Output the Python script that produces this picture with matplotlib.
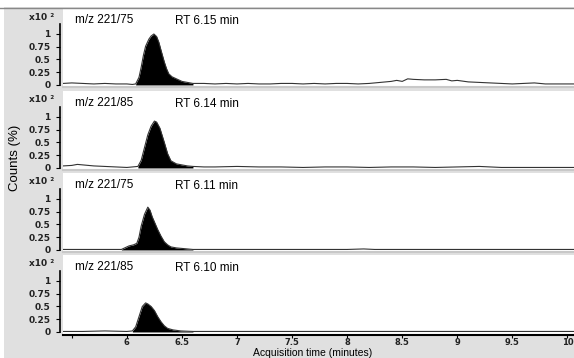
import matplotlib.pyplot as plt
from matplotlib.patches import Rectangle
from matplotlib.lines import Line2D

# chromatogram traces (time in min, counts in x10^2 %)
t1 = [5.42, 5.5, 5.6, 5.7, 5.8, 5.9, 6.0, 6.05, 6.08, 6.11, 6.13, 6.15, 6.17, 6.2, 6.22, 6.245,
      6.27, 6.29, 6.31, 6.34, 6.36, 6.38, 6.41, 6.45, 6.5, 6.55, 6.6, 6.7, 6.8, 6.9, 7.0, 7.1,
      7.2, 7.3, 7.4, 7.5, 7.6, 7.7, 7.8, 7.9, 8.0, 8.1, 8.2, 8.3, 8.4, 8.45, 8.5, 8.55, 8.6,
      8.7, 8.8, 8.9, 8.95, 9.0, 9.1, 9.2, 9.3, 9.4, 9.5, 9.6, 9.7, 9.8, 9.9, 10.06]
y1 = [0.03, 0.04, 0.03, 0.02, 0.03, 0.02, 0.02, 0.01, 0.02, 0.15, 0.35, 0.58, 0.76, 0.9, 0.96, 1.0,
      0.95, 0.84, 0.68, 0.45, 0.32, 0.22, 0.16, 0.12, 0.07, 0.05, 0.03, 0.03, 0.02, 0.03, 0.02, 0.03,
      0.02, 0.02, 0.03, 0.03, 0.02, 0.03, 0.02, 0.03, 0.03, 0.02, 0.03, 0.05, 0.07, 0.09, 0.07, 0.12, 0.11,
      0.1, 0.1, 0.11, 0.08, 0.09, 0.06, 0.05, 0.04, 0.03, 0.02, 0.03, 0.04, 0.02, 0.02, 0.02]

t2 = [5.42, 5.5, 5.55, 5.6, 5.7, 5.8, 5.9, 6.0, 6.05, 6.1, 6.13, 6.16, 6.19, 6.22, 6.25, 6.27,
      6.3, 6.34, 6.37, 6.4, 6.45, 6.5, 6.55, 6.6, 6.7, 6.8, 7.0, 7.2, 7.4, 7.6, 7.8, 8.0, 8.2,
      8.4, 8.6, 8.8, 9.0, 9.2, 9.4, 9.6, 9.8, 10.06]
y2 = [0.04, 0.05, 0.07, 0.06, 0.04, 0.03, 0.02, 0.01, 0.02, 0.03, 0.15, 0.4, 0.65, 0.82, 0.92, 0.9,
      0.78, 0.5, 0.28, 0.14, 0.08, 0.06, 0.04, 0.03, 0.02, 0.02, 0.03, 0.02, 0.02, 0.01, 0.02, 0.02, 0.01,
      0.02, 0.02, 0.01, 0.02, 0.03, 0.01, 0.01, 0.01, 0.01]

t3 = [5.42, 5.6, 5.8, 5.95, 5.98, 6.02, 6.06, 6.09, 6.11, 6.13, 6.16, 6.19, 6.21, 6.23, 6.25,
      6.28, 6.31, 6.34, 6.37, 6.4, 6.45, 6.5, 6.6, 7.0, 7.5, 8.0, 8.15, 8.25, 8.4, 9.0, 9.5, 10.06]
y3 = [0.01, 0.01, 0.01, 0.01, 0.04, 0.08, 0.1, 0.13, 0.25, 0.47, 0.7, 0.84, 0.78, 0.65, 0.55,
      0.4, 0.27, 0.16, 0.1, 0.06, 0.04, 0.03, 0.01, 0.01, 0.01, 0.01, 0.02, 0.01, 0.01, 0.01, 0.01, 0.01]

t4 = [5.42, 5.6, 5.8, 6.0, 6.05, 6.08, 6.11, 6.14, 6.17, 6.19, 6.22, 6.25, 6.28, 6.31, 6.34,
      6.37, 6.42, 6.49, 6.6, 7.0, 7.5, 8.0, 8.5, 9.0, 9.5, 10.06]
y4 = [0.01, 0.01, 0.02, 0.01, 0.02, 0.1, 0.3, 0.5, 0.57, 0.55, 0.5, 0.42, 0.3, 0.2, 0.12,
      0.07, 0.04, 0.02, 0.01, 0.01, 0.01, 0.01, 0.01, 0.01, 0.01, 0.01]

traces = [(t1, y1), (t2, y2), (t3, y3), (t4, y4)]
peak_windows = [(6.08, 6.6), (6.1, 6.6), (5.95, 6.6), (6.05, 6.6)]
mz_labels = ['m/z 221/75', 'm/z 221/85', 'm/z 221/75', 'm/z 221/85']
rt_labels = ['RT 6.15 min', 'RT 6.14 min', 'RT 6.11 min', 'RT 6.10 min']
y_ticks = [0, 0.25, 0.5, 0.75, 1]
y_ticklabels = ['0', '0.25', '0.5', '0.75', '1']
x_ticks = [5.5, 6, 6.5, 7, 7.5, 8, 8.5, 9, 9.5, 10]
x_ticklabels = ['', '6', '6.5', '7', '7.5', '8', '8.5', '9', '9.5', '10']

W, H = 574, 358
bg = '#e0e0e0'
fig = plt.figure(figsize=(W / 100, H / 100), dpi=100)
fig.patch.set_facecolor(bg)

# white strip at top and left edge, thin line under the top strip
fig.add_artist(Rectangle((0, 1 - 7 / H), 1, 7 / H, transform=fig.transFigure,
                         facecolor='white', edgecolor='none'))
fig.add_artist(Rectangle((0, 0), 4 / W, 1, transform=fig.transFigure,
                         facecolor='white', edgecolor='none'))
fig.add_artist(Line2D([0, 1], [1 - 7.5 / H] * 2, transform=fig.transFigure,
                      color='#888888', lw=1))

tops = [8, 91, 173, 255]
ph = 79
left = 63
for i, (t, y) in enumerate(traces):
    ax = fig.add_axes([left / W, 1 - (tops[i] + ph) / H, (W - left) / W, ph / H])
    ax.set_facecolor('white')
    ax.plot(t, y, color='#333333', lw=0.8)
    lo, hi = peak_windows[i]
    ax.fill_between(t, 0, y, where=[lo <= v <= hi for v in t], color='black', lw=0)
    ax.set_xlim(5.42, 10.06)
    ax.set_ylim(-0.04, 1.51)
    for s in ['top', 'right']:
        ax.spines[s].set_visible(False)
    ax.spines['left'].set_position(('outward', 2))
    ax.spines['left'].set_bounds(0, 1.2)
    ax.spines['left'].set_linewidth(1.2)
    ax.set_yticks(y_ticks)
    ax.set_yticklabels(y_ticklabels, fontsize=6.5, fontweight='bold', color='#222222')
    ax.tick_params(axis='y', length=3, width=0.8, pad=4)
    ax.set_xticks(x_ticks)
    if i < 3:
        ax.spines['bottom'].set_color('#c8c8c8')
        ax.spines['bottom'].set_linewidth(1.5)
        ax.tick_params(axis='x', length=0, labelbottom=False)
    else:
        ax.spines['bottom'].set_linewidth(1.5)
        ax.spines['bottom'].set_position(('outward', 1))
        ax.set_xticklabels(x_ticklabels, fontsize=6, fontweight='bold', color='#222222')
        ax.tick_params(axis='x', length=2.5, width=0.8, pad=-0.5)
    ax.text(0.023, 0.85, mz_labels[i], transform=ax.transAxes, fontsize=8.5,
            family='Liberation Sans', va='center')
    ax.text(0.219, 0.83, rt_labels[i], transform=ax.transAxes, fontsize=8.5,
            family='Liberation Sans', va='center')
    fig.text(54 / W, 1 - (tops[i] + 9) / H, 'x10 ²', fontsize=6.5, fontweight='bold',
             color='#222222', ha='right', va='center')

fig.text(15 / W, 1 - 158 / H, 'Counts (%)', rotation=90, fontsize=9.5,
         family='Liberation Sans', ha='center', va='center')
fig.text(313 / W, 0.3 / H, 'Acquisition time (minutes)', fontsize=7.5,
         family='Liberation Sans', ha='center', va='bottom')

fig.savefig('out.png', dpi=100, facecolor=fig.get_facecolor())
